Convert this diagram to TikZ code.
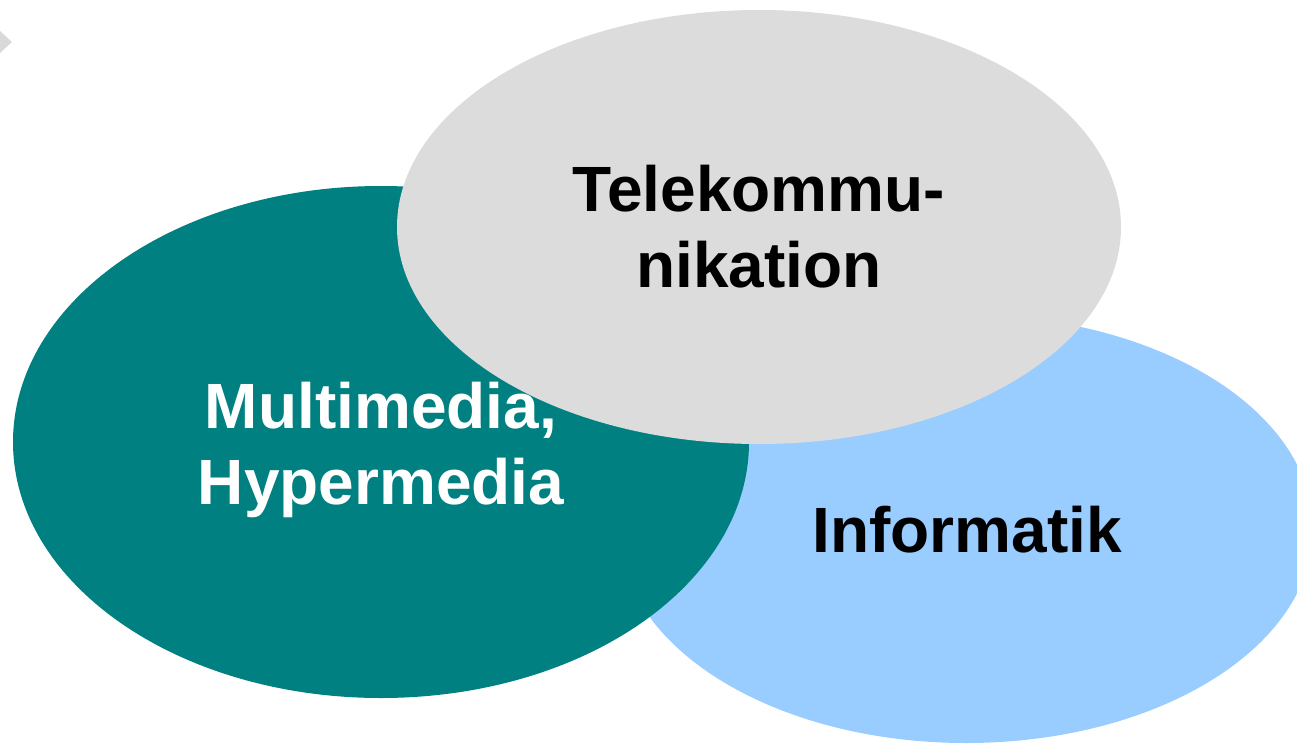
\documentclass[tikz,border=0pt]{standalone}
\usepackage{fontspec}
\setmainfont{Liberation Sans}
\usetikzlibrary{shapes.geometric}
\definecolor{tealc}{HTML}{008080}
\definecolor{bluec}{HTML}{99CCFF}
\definecolor{greyc}{HTML}{DCDCDC}
\definecolor{arrowc}{HTML}{D9D9D9}
\tikzset{
  blob/.style={ellipse, draw=none, inner sep=0pt, outer sep=0pt},
  lbl/.style={font=\fontsize{64}{76}\selectfont\bfseries, align=center, inner sep=0pt}
}
\begin{document}
\begin{tikzpicture}[x=1pt,y=-1pt]
\useasboundingbox (0,0) rectangle (1297,744);
\fill[arrowc] (0,31) -- (12,42) -- (0,53) -- cycle;
\node[blob, fill=bluec, minimum width=694pt, minimum height=428pt] (info) at (966,529) {};
\node[blob, fill=tealc, minimum width=736pt, minimum height=512pt] (multi) at (381,442) {};
\node[blob, fill=greyc, minimum width=724pt, minimum height=434pt] (tele) at (759,227) {};
\node[lbl, text=black] (infotext) at (967,530) {Informatik};
\node[lbl, text=white] (multitext) at (381,450) {Multimedia,\\Hypermedia};
\node[lbl, text=black] (teletext) at (759,227) {Telekommu-\\nikation};
\end{tikzpicture}
\end{document}
